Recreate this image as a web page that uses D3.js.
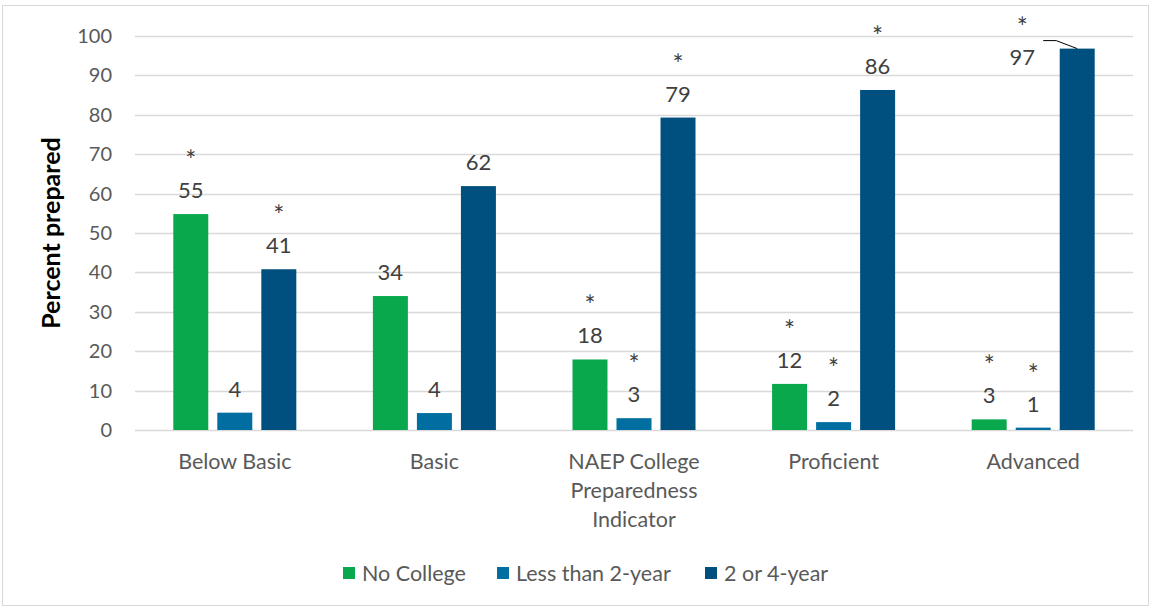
<!DOCTYPE html>
<html lang="en">
<head>
  <title>Percent prepared</title>
  <script src="https://d3js.org/d3.v7.min.js"></script>
  <style>
    body { margin: 0; background: #fff; }
    text { font-family: Lato, "Open Sans", sans-serif; }
  </style>
</head>
<body>
<div id="chart"></div>
<script>
// data
var categories = ["Below Basic", "Basic", "NAEP College Preparedness Indicator", "Proficient", "Advanced"];
var categoryLines = [["Below Basic"], ["Basic"], ["NAEP College", "Preparedness", "Indicator"], ["Proficient"], ["Advanced"]];
var seriesNames = ["No College", "Less than 2-year", "2 or 4-year"];
var noCollege = [54.8, 34.0, 17.9, 11.7, 2.7];
var lessThan2 = [4.4, 4.3, 3.0, 2.0, 0.6];
var twoOrFour = [40.8, 61.9, 79.3, 86.3, 96.8];
var noCollegeStar = [true, false, true, true, true];
var lessThan2Star = [false, false, true, true, true];
var twoOrFourStar = [true, false, true, true, true];
var yTicks = [0, 10, 20, 30, 40, 50, 60, 70, 80, 90, 100];
var colors = ["#0aa84c", "#006ea0", "#00507f"];

var W = 1152, H = 608;
var plot = {left: 135, right: 1133, top: 36, bottom: 430};

var svg = d3.select("#chart").append("svg")
    .attr("width", W)
    .attr("height", H);

// chart border
svg.append("rect")
    .attr("x", 2.5).attr("y", 5.5)
    .attr("width", 1146).attr("height", 600)
    .attr("fill", "#fff")
    .attr("stroke", "#d9d9d9");

var x0 = d3.scaleBand()
    .domain(categories)
    .range([plot.left, plot.right]);

var x1 = d3.scaleBand()
    .domain(seriesNames)
    .range([0, x0.bandwidth()])
    .paddingInner(0.205)
    .paddingOuter(0.87);

var y = d3.scaleLinear()
    .domain([0, 100])
    .range([plot.bottom, plot.top]);

// gridlines
svg.append("g")
    .selectAll("line")
    .data(yTicks)
    .join("line")
    .attr("x1", plot.left).attr("x2", plot.right)
    .attr("y1", function(d) { return Math.round(y(d)) + 0.5; })
    .attr("y2", function(d) { return Math.round(y(d)) + 0.5; })
    .attr("stroke", "#d9d9d9")
    .attr("stroke-width", 1.3);

// y tick labels
svg.append("g")
    .selectAll("text")
    .data(yTicks)
    .join("text")
    .attr("x", 112)
    .attr("y", function(d) { return y(d); })
    .attr("dy", "0.35em")
    .attr("text-anchor", "end")
    .attr("fill", "#595959")
    .style("font-size", "20px")
    .text(function(d) { return d; });

// y axis title
svg.append("text")
    .attr("transform", "translate(60," + ((plot.top + plot.bottom) / 2) + ") rotate(-90)")
    .attr("text-anchor", "middle")
    .attr("fill", "#000")
    .style("font-size", "25px")
    .style("font-weight", "bold")
    .text("Percent prepared");

// build rows for bars
var seriesValues = [noCollege, lessThan2, twoOrFour];
var seriesStars = [noCollegeStar, lessThan2Star, twoOrFourStar];
var rows = [];
categories.forEach(function(c, i) {
  seriesNames.forEach(function(s, j) {
    rows.push({cat: c, series: s, value: seriesValues[j][i], star: seriesStars[j][i], color: colors[j]});
  });
});

var bars = svg.append("g");
bars.selectAll("rect")
    .data(rows)
    .join("rect")
    .attr("x", function(d) { return x0(d.cat) + x1(d.series); })
    .attr("y", function(d) { return y(d.value); })
    .attr("width", x1.bandwidth())
    .attr("height", function(d) { return y(0) - y(d.value); })
    .attr("fill", function(d) { return d.color; });

// label offsets (the 97 label was moved aside with a leader line)
function labelDx(d) { return (d.cat == "Advanced" && d.series == "2 or 4-year") ? -55 : 0; }
function labelY(d) {
  if (d.cat == "Advanced" && d.series == "2 or 4-year") return y(d.value) + 16;
  return y(d.value) - 16;
}
function barMid(d) { return x0(d.cat) + x1(d.series) + x1.bandwidth() / 2; }

var labels = svg.append("g");
labels.selectAll("text.val")
    .data(rows)
    .join("text")
    .attr("class", "val")
    .attr("x", function(d) { return barMid(d) + labelDx(d); })
    .attr("y", labelY)
    .attr("text-anchor", "middle")
    .attr("fill", "#404040")
    .style("font-size", "22px")
    .text(function(d) { return Math.round(d.value); });

labels.selectAll("text.star")
    .data(rows.filter(function(d) { return d.star; }))
    .join("text")
    .attr("class", "star")
    .attr("x", function(d) { return barMid(d) + labelDx(d); })
    .attr("y", function(d) { return labelY(d) - 28; })
    .attr("text-anchor", "middle")
    .attr("fill", "#404040")
    .style("font-size", "26px")
    .text("*");

// leader line for 97
var adv = rows.filter(function(d) { return d.cat == "Advanced" && d.series == "2 or 4-year"; })[0];
svg.append("path")
    .attr("d", d3.line()([
      [barMid(adv) - 34, y(adv.value) - 8],
      [barMid(adv) - 21, y(adv.value) - 8],
      [barMid(adv), y(adv.value)]
    ]))
    .attr("fill", "none")
    .attr("stroke", "#000")
    .attr("stroke-width", 1);

// category labels
var catG = svg.append("g");
categories.forEach(function(c, i) {
  var t = catG.append("text")
      .attr("x", x0(c) + x0.bandwidth() / 2)
      .attr("y", 469)
      .attr("text-anchor", "middle")
      .attr("fill", "#595959")
      .style("font-size", "21.5px");
  categoryLines[i].forEach(function(line, k) {
    t.append("tspan")
        .attr("x", x0(c) + x0.bandwidth() / 2)
        .attr("dy", k == 0 ? 0 : 29)
        .text(line);
  });
});

// legend
var legendX = [343, 497, 705];
var legend = svg.append("g");
seriesNames.forEach(function(s, j) {
  legend.append("rect")
      .attr("x", legendX[j]).attr("y", 567)
      .attr("width", 12).attr("height", 12)
      .attr("fill", colors[j]);
  legend.append("text")
      .attr("x", legendX[j] + 19)
      .attr("y", 573)
      .attr("dy", "0.35em")
      .attr("fill", "#595959")
      .style("font-size", "21.5px")
      .text(s);
});
</script>
</body>
</html>
